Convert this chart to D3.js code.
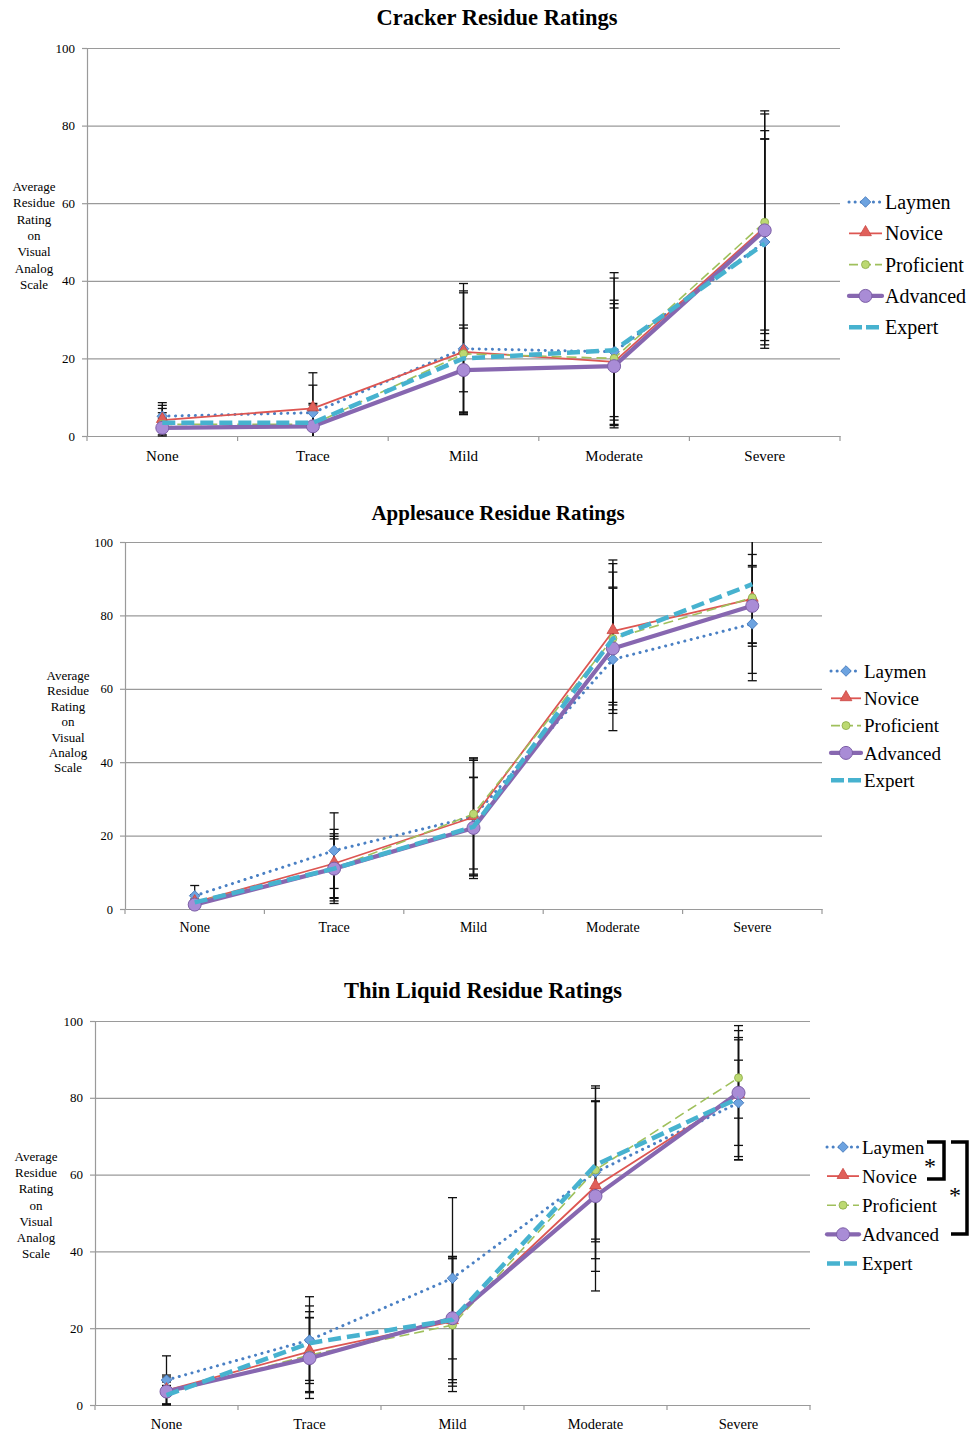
<!DOCTYPE html>
<html>
<head>
<meta charset="utf-8">
<script src="https://cdn.jsdelivr.net/npm/d3@7"></script>
<style>
  body { margin: 0; background: #fff; }
  text { font-family: "Liberation Serif", "Times New Roman", serif; fill: #000; }
</style>
</head>
<body>
<script>
var categories = ['None', 'Trace', 'Mild', 'Moderate', 'Severe'];
var groups = ['Laymen', 'Novice', 'Proficient', 'Advanced', 'Expert'];
var yTicks = [0, 20, 40, 60, 80, 100];
var yLabelLines = ['Average', 'Residue', 'Rating', 'on', 'Visual', 'Analog', 'Scale'];

// rows follow groups: Laymen, Novice, Proficient, Advanced, Expert
var crackerMeans = [
  [5.1, 6.0, 22.5, 21.7, 50.0],
  [4.1, 7.1, 21.7, 19.1, 53.8],
  [3.0, 3.0, 21.2, 20.0, 55.1],
  [2.1, 2.5, 17.0, 18.0, 53.0],
  [3.4, 3.4, 20.0, 22.1, 49.6]
];
var crackerSD = [
  [3.5, 7.1, 16.8, 19.0, 26.5],
  [3.8, 9.2, 15.7, 15.0, 29.2],
  [3.0, 5.0, 15.7, 15.0, 28.7],
  [2.5, 4.0, 10.8, 15.0, 25.7],
  [3.7, 5.0, 8.6, 20.0, 27.0]
];

var applesauceMeans = [
  [3.6, 15.9, 25.2, 68.0, 77.7],
  [1.8, 12.4, 25.0, 75.7, 84.5],
  [1.8, 11.0, 25.9, 73.7, 84.8],
  [1.2, 11.0, 22.1, 71.0, 82.6],
  [1.8, 11.0, 22.4, 73.7, 88.5]
];
var applesauceSD = [
  [2.8, 10.3, 16.0, 19.4, 15.5],
  [2.0, 9.3, 15.5, 19.4, 12.1],
  [2.0, 8.8, 15.0, 20.4, 20.6],
  [1.5, 8.1, 13.8, 16.7, 11.0],
  [2.0, 9.5, 13.4, 18.1, 16.0]
];

var thinMeans = [
  [6.5, 16.9, 33.0, 60.6, 78.7],
  [3.8, 13.9, 21.8, 56.9, 80.7],
  [3.0, 13.0, 20.8, 61.2, 85.2],
  [3.5, 12.2, 22.6, 54.4, 81.3],
  [2.6, 16.1, 22.2, 62.5, 79.9]
];
var thinSD = [
  [6.3, 11.3, 21.0, 22.5, 11.1],
  [3.5, 10.4, 16.9, 22.1, 16.8],
  [3.0, 9.8, 17.3, 18.0, 10.5],
  [4.3, 10.5, 16.0, 24.7, 17.5],
  [2.5, 9.7, 16.4, 20.0, 15.2]
];

var STYLES = {
  Laymen:     { color: '#4a80c4', width: 3,   dash: '0.1 6.5', cap: 'round', marker: 'diamond', fill: '#6da3e0' },
  Novice:     { color: '#dd5652', width: 1.8, dash: null,      cap: 'butt',  marker: 'triangle', fill: '#e0605a' },
  Proficient: { color: '#9fc05c', width: 1.6, dash: '10 5',    cap: 'butt',  marker: 'small',    fill: '#bcd972' },
  Advanced:   { color: '#8767b0', width: 4.2, dash: null,      cap: 'round', marker: 'circle',   fill: '#a98cd6' },
  Expert:     { color: '#47b2cf', width: 4.5, dash: '13 6',    cap: 'butt',  marker: null,       fill: null }
};

var svg = d3.select('body').append('svg').attr('width', 979).attr('height', 1433);

function drawMarker(g, type, x, y, st) {
  if (type === 'diamond') {
    g.append('path')
      .attr('d', d3.symbol().type(d3.symbolSquare).size(56)())
      .attr('transform', 'translate(' + x + ',' + y + ') rotate(45)')
      .attr('fill', st.fill).attr('stroke', '#3f74b8').attr('stroke-width', 0.8);
  } else if (type === 'triangle') {
    g.append('path')
      .attr('d', d3.symbol().type(d3.symbolTriangle).size(60)())
      .attr('transform', 'translate(' + x + ',' + (y - 1) + ')')
      .attr('fill', st.fill).attr('stroke', '#c94541').attr('stroke-width', 0.8);
  } else if (type === 'small') {
    g.append('circle').attr('cx', x).attr('cy', y).attr('r', 4)
      .attr('fill', st.fill).attr('stroke', '#8aaa48').attr('stroke-width', 0.8);
  } else if (type === 'circle') {
    g.append('circle').attr('cx', x).attr('cy', y).attr('r', 6.5)
      .attr('fill', st.fill).attr('stroke', '#7c5ea6').attr('stroke-width', 1);
  }
}

function drawChart(cfg) {
  var g = svg.append('g');
  var x = d3.scaleBand().domain(categories).range([cfg.left, cfg.right]);
  var y = d3.scaleLinear().domain([0, 100]).range([cfg.bottom, cfg.top]);

  g.append('text')
    .attr('x', cfg.titleX).attr('y', cfg.titleY)
    .attr('text-anchor', 'middle')
    .style('font-size', cfg.titleFont + 'px').style('font-weight', 'bold')
    .text(cfg.title);

  // gridlines
  g.append('g')
    .attr('transform', 'translate(' + cfg.left + ',0)')
    .call(d3.axisLeft(y).tickValues(yTicks.slice(1)).tickSize(-(cfg.right - cfg.left)).tickFormat(''))
    .call(a => a.select('.domain').remove())
    .selectAll('line').attr('stroke', '#9a9a9a').attr('stroke-width', 1.2);

  // y axis
  var yAxis = g.append('g')
    .attr('transform', 'translate(' + cfg.left + ',0)')
    .call(d3.axisLeft(y).tickValues(yTicks).tickSize(5).tickPadding(7).tickSizeOuter(0));
  yAxis.select('.domain').attr('stroke', '#9a9a9a').attr('stroke-width', 1.2);
  yAxis.selectAll('line').attr('stroke', '#9a9a9a').attr('stroke-width', 1.2);
  yAxis.selectAll('text')
    .style('font-family', '"Liberation Serif", serif')
    .style('font-size', cfg.tickFont + 'px');

  // x axis with ticks at category boundaries
  var xAxis = g.append('g')
    .attr('transform', 'translate(0,' + cfg.bottom + ')')
    .call(d3.axisBottom(x).tickSize(0).tickPadding(cfg.catPad).tickSizeOuter(0));
  xAxis.select('.domain').attr('stroke', '#9a9a9a').attr('stroke-width', 1.2);
  xAxis.selectAll('text')
    .style('font-family', '"Liberation Serif", serif')
    .style('font-size', cfg.catFont + 'px');
  var bounds = categories.map(c => x(c)).concat([cfg.right]);
  g.selectAll('.xtick').data(bounds).enter().append('line')
    .attr('x1', d => d).attr('x2', d => d)
    .attr('y1', cfg.bottom).attr('y2', cfg.bottom + 5)
    .attr('stroke', '#9a9a9a').attr('stroke-width', 1.2);

  // y label
  var yl = g.append('text')
    .attr('text-anchor', 'middle')
    .style('font-size', '13px');
  yLabelLines.forEach((t, i) => {
    yl.append('tspan').attr('x', cfg.yLabelX).attr('y', cfg.yLabelY + i * cfg.yLabelStep).text(t);
  });

  var cx = c => x(c) + x.bandwidth() / 2;

  // error bars
  var eb = g.append('g');
  groups.forEach((grp, gi) => {
    categories.forEach((c, ci) => {
      var m = cfg.means[gi][ci], s = cfg.sd[gi][ci];
      var hi = Math.min(100, m + s), lo = Math.max(0, m - s);
      eb.append('line')
        .attr('x1', cx(c)).attr('x2', cx(c))
        .attr('y1', y(hi)).attr('y2', y(lo))
        .attr('stroke', '#111').attr('stroke-width', 1.3);
      [m + s, m - s].forEach(v => {
        if (v <= 100 && v >= 0) {
          eb.append('line')
            .attr('x1', cx(c) - 4.5).attr('x2', cx(c) + 4.5)
            .attr('y1', y(v)).attr('y2', y(v))
            .attr('stroke', '#111').attr('stroke-width', 1.3);
        }
      });
    });
  });

  // series
  var line = d3.line().x((d, i) => cx(categories[i])).y(d => y(d));
  groups.forEach((grp, gi) => {
    var st = STYLES[grp];
    var sg = g.append('g');
    sg.append('path')
      .attr('d', line(cfg.means[gi]))
      .attr('fill', 'none')
      .attr('stroke', st.color)
      .attr('stroke-width', st.width)
      .attr('stroke-linecap', st.cap)
      .attr('stroke-linejoin', 'round')
      .attr('stroke-dasharray', st.dash);
    if (st.marker) {
      cfg.means[gi].forEach((v, i) => drawMarker(sg, st.marker, cx(categories[i]), y(v), st));
    }
  });

  // legend
  var lg = g.append('g');
  groups.forEach((grp, gi) => {
    var st = STYLES[grp];
    var ly = cfg.legendY + gi * cfg.legendStep;
    lg.append('line')
      .attr('x1', cfg.legendX1).attr('x2', cfg.legendX2)
      .attr('y1', ly).attr('y2', ly)
      .attr('stroke', st.color)
      .attr('stroke-width', st.width)
      .attr('stroke-linecap', st.cap)
      .attr('stroke-dasharray', grp === 'Laymen' ? '0.1 6' : (st.dash ? (grp === 'Proficient' ? '9 4' : '13 4') : null));
    if (st.marker) drawMarker(lg, st.marker, (cfg.legendX1 + cfg.legendX2) / 2, ly, st);
    lg.append('text')
      .attr('x', cfg.legendX2 + 3).attr('y', ly)
      .attr('dy', '0.35em')
      .style('font-size', cfg.legendFont + 'px')
      .text(grp);
  });

  return { g: g, y: y };
}

drawChart({
  title: 'Cracker Residue Ratings', titleX: 497, titleY: 25, titleFont: 22.5,
  left: 87, right: 840, top: 48, bottom: 436,
  tickFont: 13, catFont: 15, catPad: 14,
  yLabelX: 34, yLabelY: 191, yLabelStep: 16.3,
  legendX1: 849, legendX2: 882, legendY: 202, legendStep: 31.3, legendFont: 20,
  means: crackerMeans, sd: crackerSD
});

drawChart({
  title: 'Applesauce Residue Ratings', titleX: 498, titleY: 520, titleFont: 21,
  left: 125, right: 822, top: 542, bottom: 909,
  tickFont: 12.5, catFont: 14, catPad: 13,
  yLabelX: 68, yLabelY: 680, yLabelStep: 15.4,
  legendX1: 831, legendX2: 861, legendY: 671, legendStep: 27.3, legendFont: 19,
  means: applesauceMeans, sd: applesauceSD
});

var thin = drawChart({
  title: 'Thin Liquid Residue Ratings', titleX: 483, titleY: 998, titleFont: 22.5,
  left: 95, right: 810, top: 1021, bottom: 1405,
  tickFont: 13, catFont: 14.5, catPad: 14,
  yLabelX: 36, yLabelY: 1161, yLabelStep: 16.2,
  legendX1: 827, legendX2: 859, legendY: 1147, legendStep: 29.1, legendFont: 19,
  means: thinMeans, sd: thinSD
});

// significance brackets beside the thin liquid legend
var br = thin.g.append('g').attr('fill', 'none').attr('stroke', '#000').attr('stroke-width', 3.5);
br.append('path').attr('d', d3.line()([[927, 1142], [944, 1142], [944, 1179], [927, 1179]]));
br.append('path').attr('d', d3.line()([[951, 1142], [967, 1142], [967, 1234], [951, 1234]]));
thin.g.append('text').attr('x', 930).attr('y', 1174).attr('text-anchor', 'middle').style('font-size', '24px').text('*');
thin.g.append('text').attr('x', 955).attr('y', 1203).attr('text-anchor', 'middle').style('font-size', '24px').text('*');
</script>
</body>
</html>
